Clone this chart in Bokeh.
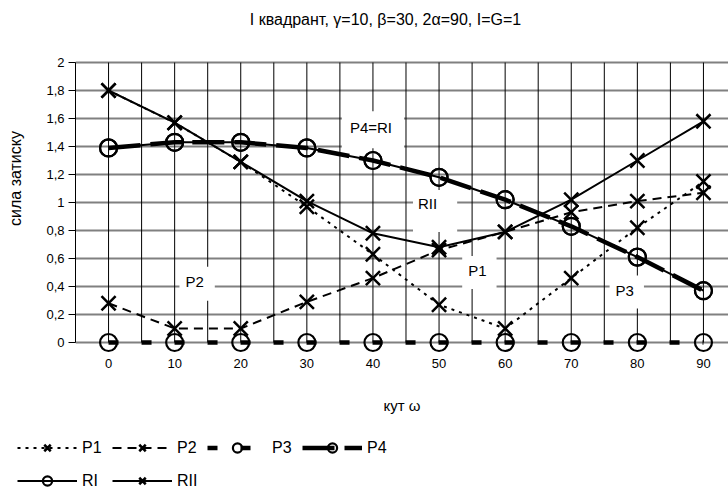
from bokeh.plotting import figure
from bokeh.layouts import column
from bokeh.models import Range1d, FixedTicker, Legend, LegendItem, Label, ColumnDataSource
from bokeh.embed import file_html
from bokeh.resources import INLINE

FONT = "Liberation Sans"

angles = [0, 10, 20, 30, 40, 50, 60, 70, 80, 90]
p1_vals = [1.80, 1.57, 1.29, 0.97, 0.63, 0.27, 0.10, 0.46, 0.82, 1.15]
p2_vals = [0.28, 0.10, 0.10, 0.29, 0.46, 0.66, 0.79, 0.93, 1.01, 1.07]
p3_vals = [0, 0, 0, 0, 0, 0, 0, 0, 0, 0]
p4_vals = [1.39, 1.43, 1.43, 1.39, 1.30, 1.18, 1.02, 0.83, 0.61, 0.37]
ri_vals = [1.39, 1.43, 1.43, 1.39, 1.30, 1.18, 1.02, 0.83, 0.61, 0.37]
rii_vals = [1.80, 1.57, 1.29, 1.01, 0.78, 0.68, 0.79, 1.02, 1.30, 1.58]

y_ticks = [0, 0.2, 0.4, 0.6, 0.8, 1.0, 1.2, 1.4, 1.6, 1.8, 2.0]
y_tick_labels = ["0", "0,2", "0,4", "0,6", "0,8", "1", "1,2", "1,4", "1,6", "1,8", "2"]

title_text = "I квадрант, γ=10, β=30, 2α=90, I=G=1"
x_title = "кут ω"
y_title = "сила затиску"

series_names = ["P1", "P2", "P3", "P4", "RI", "RII"]

src = ColumnDataSource(dict(angle=angles, p1=p1_vals, p2=p2_vals, p3=p3_vals,
                            p4=p4_vals, ri=ri_vals, rii=rii_vals))


def add_series(fig):
    out = {}
    out["P3"] = [fig.line("angle", "p3", source=src, line_color="black", line_width=4.5, line_dash="10 23"),
                 fig.scatter("angle", "p3", source=src, marker="circle", size=17, fill_color=None,
                             line_color="black", line_width=2.2)]
    out["RI"] = [fig.line("angle", "ri", source=src, line_color="black", line_width=2),
                 fig.scatter("angle", "ri", source=src, marker="circle", size=17, fill_color=None,
                             line_color="black", line_width=2.2)]
    out["P4"] = [fig.line("angle", "p4", source=src, line_color="black", line_width=4.5, line_dash="32 10"),
                 fig.scatter("angle", "p4", source=src, marker="circle", size=17, fill_color=None,
                             line_color="black", line_width=2.2)]
    out["P2"] = [fig.line("angle", "p2", source=src, line_color="black", line_width=2, line_dash="9 6"),
                 fig.scatter("angle", "p2", source=src, marker="x", size=20, line_color="black",
                             line_width=2.5)]
    out["P1"] = [fig.line("angle", "p1", source=src, line_color="black", line_width=2, line_dash="3 5"),
                 fig.scatter("angle", "p1", source=src, marker="x", size=20, line_color="black",
                             line_width=2.5)]
    out["RII"] = [fig.line("angle", "rii", source=src, line_color="black", line_width=2),
                  fig.scatter("angle", "rii", source=src, marker="x", size=20, line_color="black",
                              line_width=2.5)]
    return out


# ---------------- main chart ----------------
p = figure(width=728, height=420, x_range=Range1d(-5, 93.79), y_range=Range1d(-0.1, 2.443),
           output_backend="svg", toolbar_location=None,
           min_border_left=75, min_border_right=0, min_border_top=0, min_border_bottom=64)
p.outline_line_color = None
p.background_fill_color = "white"
p.border_fill_color = "white"

p.xgrid.visible = False
p.ygrid.ticker = FixedTicker(ticks=y_ticks)
p.ygrid.grid_line_color = "#808080"
p.ygrid.grid_line_width = 2

half = (angles[1] - angles[0]) / 2
vx = [angles[0] - half + i * half for i in range(2 * len(angles))]
p.segment(x0=vx, y0=[y_ticks[0]] * len(vx), x1=vx, y1=[y_ticks[-1]] * len(vx),
          line_color="black", line_width=1)

yax = p.yaxis[0]
yax.ticker = FixedTicker(ticks=y_ticks)
yax.major_label_overrides = dict(zip(y_ticks, y_tick_labels))
yax.bounds = (y_ticks[0], y_ticks[-1])
yax.major_tick_out = 7
yax.major_tick_in = 0
yax.minor_tick_out = 0
yax.minor_tick_in = 0
yax.axis_line_color = "black"
yax.major_tick_line_color = "black"
yax.major_label_text_font = FONT
yax.major_label_text_font_size = "13px"
yax.major_label_text_color = "black"
yax.major_label_standoff = 4
yax.axis_label = y_title
yax.axis_label_standoff = 19
yax.axis_label_text_font = FONT
yax.axis_label_text_font_size = "16px"
yax.axis_label_text_font_style = "normal"
yax.axis_label_text_color = "black"

xax = p.xaxis[0]
xax.ticker = FixedTicker(ticks=angles)
xax.bounds = (-5, 90.2)
xax.axis_line_color = None
xax.major_tick_out = 0
xax.major_tick_in = 0
xax.minor_tick_out = 0
xax.minor_tick_in = 0
xax.major_label_text_font = FONT
xax.major_label_text_font_size = "13px"
xax.major_label_text_color = "black"
xax.major_label_standoff = 2
xax.axis_label = x_title
xax.axis_label_standoff = 26
xax.axis_label_text_font = FONT
xax.axis_label_text_font_size = "15px"
xax.axis_label_text_font_style = "normal"
xax.axis_label_text_color = "black"

add_series(p)

in_labels = [
    ("P4=RI", 40.0, 1.52, (8, 12, 8, 12)),
    ("RII", 49.4, 0.94, (5, 20, 5, 20)),
    ("P1", 56.1, 0.50, (6, 10, 6, 10)),
    ("P2", 13.4, 0.42, (6, 11, 6, 11)),
    ("P3", 78.4, 0.36, (6, 10, 6, 10)),
]
for txt, lx, ly, pad in in_labels:
    p.add_layout(Label(x=lx, y=ly, text=txt, text_align="center", text_baseline="middle",
                       text_font=FONT, text_font_size="15px", text_color="black",
                       background_fill_color="white", padding=pad))

# chart title inside the (tall) frame, above the plotted area
p.add_layout(Label(x=310, y=337, x_units="screen", y_units="screen", text=title_text,
                   text_align="center", text_baseline="middle", text_font=FONT,
                   text_font_size="16px", text_color="black"))

# ---------------- legend strip ----------------
lg = figure(width=728, height=72, x_range=Range1d(1000, 1001), y_range=Range1d(1000, 1001),
            output_backend="svg", toolbar_location=None, x_axis_type=None, y_axis_type=None,
            min_border_left=0, min_border_right=0, min_border_top=0, min_border_bottom=0)
lg.outline_line_color = None
lg.xgrid.visible = False
lg.ygrid.visible = False
lg.background_fill_color = "white"
lg.border_fill_color = "white"
rs = add_series(lg)

legend_x = 17
for f in (p, lg):
    if "frame_align" in f.properties():
        f.frame_align = False
if "frame_align" not in lg.properties():
    legend_x = 0

legend_style = dict(orientation="horizontal", border_line_color=None, background_fill_alpha=0,
                    padding=0, margin=0, spacing=10, label_standoff=5, glyph_width=60,
                    glyph_height=23, label_height=23, label_width=20,
                    label_text_font=FONT, label_text_font_size="16px", label_text_color="black")
leg1 = Legend(items=[LegendItem(label=n, renderers=rs[n]) for n in series_names[:4]],
              location=(legend_x, 33), **legend_style)
leg2 = Legend(items=[LegendItem(label=n, renderers=rs[n]) for n in series_names[4:]],
              location=(legend_x, 0), **legend_style)
lg.add_layout(leg1)
lg.add_layout(leg2)

layout = column(p, lg, spacing=0)
open("out.html", "w").write(file_html(layout, INLINE))
